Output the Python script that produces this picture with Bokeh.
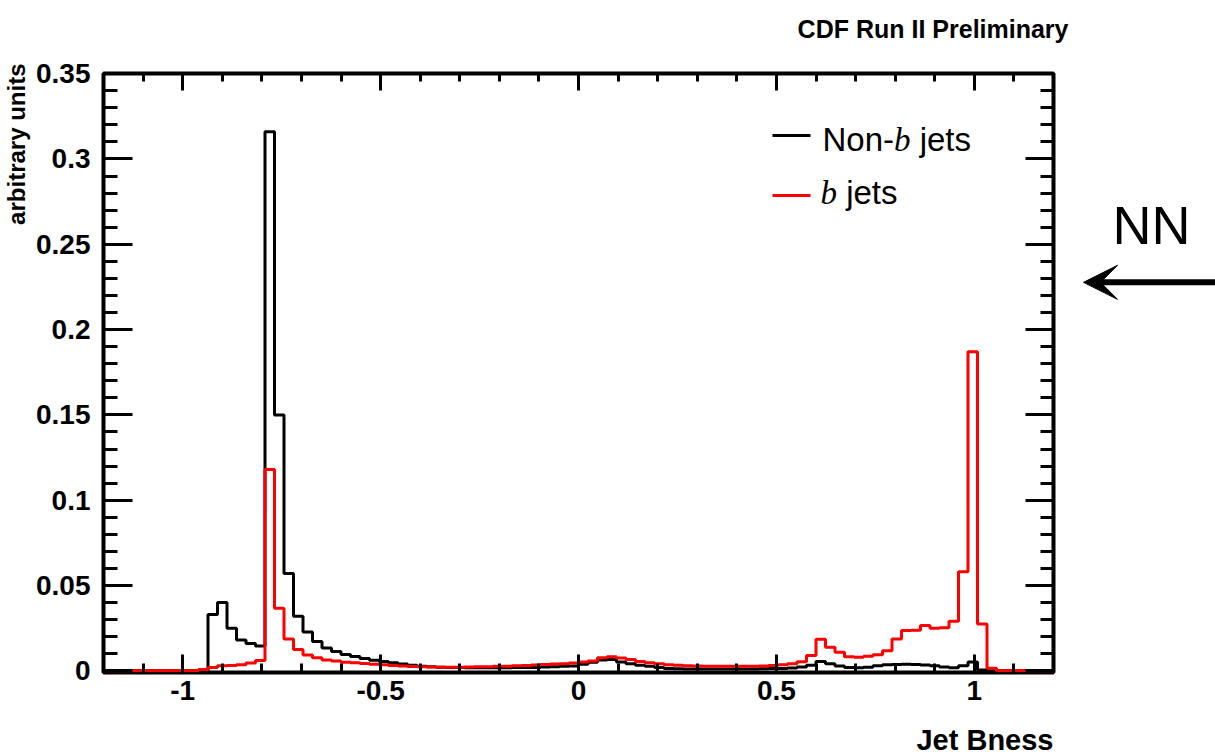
import numpy as np
from bokeh.plotting import figure
from bokeh.layouts import row, column
from bokeh.models import (SingleIntervalTicker, LinearAxis, CustomJSTickFormatter,
                          Label, Arrow, VeeHead, Range1d)
from bokeh.embed import file_html
from bokeh.resources import INLINE

# ---------------- data ----------------
N_BINS = 100
BIN_LO, BIN_HI = -1.2, 1.2

non_b_jets = [
    0, 0, 0, 0, 0, 0, 0, 0, 0, 0, 0,
    0.033, 0.040, 0.025, 0.018, 0.016, 0.0145, 0.316, 0.150, 0.057, 0.032,
    0.0228, 0.0172, 0.0133, 0.0113, 0.0096, 0.0084, 0.0072, 0.0062, 0.0055, 0.0047,
    0.0040, 0.0033, 0.0027, 0.0023, 0.0021, 0.0020, 0.0019, 0.0018, 0.0018, 0.0018,
    0.0018, 0.0018, 0.0019, 0.0019, 0.0020, 0.0022, 0.0024, 0.0026, 0.0028, 0.0038,
    0.0050, 0.0063, 0.0066, 0.0052, 0.0042, 0.0033, 0.0026, 0.0019, 0.0014, 0.0012,
    0.0011, 0.0010, 0.0010, 0.0010, 0.0010, 0.0010, 0.0011, 0.0011, 0.0012, 0.0013, 0.0014,
    0.0016, 0.0022, 0.0032, 0.0055, 0.0042, 0.0028, 0.0020, 0.0018, 0.0021,
    0.0030, 0.0035, 0.0037, 0.0038, 0.0037, 0.0034, 0.0030, 0.0022, 0.0018, 0.0030,
    0.0052, 0.0005,
    0, 0, 0, 0, 0, 0, 0,
]

b_jets = [
    0, 0, 0, 0, 0, 0, 0, 0, 0, 0, 0.0008,
    0.0020, 0.0030, 0.0031, 0.0035, 0.0045, 0.0060, 0.118, 0.0366, 0.0187, 0.0125,
    0.0092, 0.0076, 0.0064, 0.0057, 0.0050, 0.0047, 0.0043, 0.0039, 0.0035, 0.0031,
    0.0028, 0.0025, 0.0023, 0.0022, 0.0021, 0.0021, 0.0021, 0.0022, 0.0023, 0.0024,
    0.0026, 0.0027, 0.0029, 0.0031, 0.0034, 0.0037, 0.0040, 0.0042, 0.0045, 0.0052,
    0.0058, 0.0076, 0.0082, 0.0075, 0.0066, 0.0055, 0.0047, 0.0041, 0.0036, 0.0033,
    0.0030, 0.0028, 0.0027, 0.0026, 0.0026, 0.0026, 0.0026, 0.0027, 0.0028, 0.0031,
    0.0035, 0.0041, 0.0053, 0.0090, 0.0185, 0.0138, 0.0108, 0.0083, 0.0080, 0.0085,
    0.0094, 0.0117, 0.0187, 0.0236, 0.0238, 0.0265, 0.0250, 0.0252, 0.0290, 0.0580,
    0.187, 0.0275, 0.0015,
    0, 0, 0, 0, 0, 0,
]

x_label = "Jet Bness"
y_label = "arbitrary units"
title_text = "CDF Run II Preliminary"
legend_labels = ["Non-", "b", "jets"]
side_text = "NN"

# ---------------- page geometry (global pixels) ----------------
W, H = 1215, 754
HEAD, FOOT = 46, 34          # header / footer strips
LSTRIP, SIDE = 32, 140       # left title strip / right NN strip
FR_L, FR_R, FR_T, FR_B = 103, 1053, 73, 672   # plot frame
MID_H = H - HEAD - FOOT
MAIN_W = W - LSTRIP - SIDE
Y0, Y1 = -0.0010, 0.3501
FONT = "Liberation Sans"

def px2x(px):
    return BIN_LO + (px - FR_L) * (BIN_HI - BIN_LO) / (FR_R - FR_L)

def py2y(py):
    return Y0 + (FR_B - py) * (Y1 - Y0) / (FR_B - FR_T)

def strip(x0, x1, y0, y1):
    f = figure(width=x1 - x0, height=y1 - y0, x_range=Range1d(x0, x1), y_range=Range1d(y1, y0),
               output_backend="svg", toolbar_location=None, min_border=0,
               x_axis_type=None, y_axis_type=None)
    f.xgrid.visible = False
    f.ygrid.visible = False
    f.outline_line_color = None
    f.background_fill_color = "white"
    f.border_fill_color = "white"
    return f

def label(fig, x, y, text, font=FONT, style_="normal", size=33, align="left",
          baseline="middle", angle=0.0):
    fig.add_layout(Label(x=x, y=y, text=text, text_font=font, text_font_style=style_,
                         text_font_size=f"{size}px", text_align=align,
                         text_baseline=baseline, angle=angle, text_color="black"))

# ---------------- main plot ----------------
p = figure(width=MAIN_W, height=MID_H, x_range=Range1d(BIN_LO, BIN_HI), y_range=Range1d(Y0, Y1),
           output_backend="svg", toolbar_location=None,
           min_border_left=FR_L - LSTRIP, min_border_right=W - SIDE - FR_R,
           min_border_top=FR_T - HEAD, min_border_bottom=(H - FOOT) - FR_B,
           x_axis_type=None, y_axis_type=None)
p.xgrid.visible = False
p.ygrid.visible = False
p.outline_line_color = "black"
p.outline_line_width = 4
p.background_fill_color = "white"
p.border_fill_color = "white"

fmt = CustomJSTickFormatter(code="return Number(tick.toFixed(3)).toString();")
empty = CustomJSTickFormatter(code="return '';")

def style(ax, maj, mnr, labels=True):
    ax.axis_line_color = None
    ax.major_tick_in = maj
    ax.major_tick_out = 0
    ax.minor_tick_in = mnr
    ax.minor_tick_out = 0
    ax.major_tick_line_width = 3
    ax.minor_tick_line_width = 3
    ax.major_tick_line_color = "black"
    ax.minor_tick_line_color = "black"
    if labels:
        ax.major_label_text_font = FONT
        ax.major_label_text_font_style = "bold"
        ax.major_label_text_font_size = "28px"
        ax.major_label_text_color = "black"
    else:
        ax.major_label_text_font_size = "0px"
        ax.major_label_standoff = 0

xb = LinearAxis(ticker=SingleIntervalTicker(interval=0.5, num_minor_ticks=5), formatter=fmt)
style(xb, 18, 9)
xb.major_label_standoff = 8
p.add_layout(xb, "below")

xt = LinearAxis(ticker=SingleIntervalTicker(interval=0.5, num_minor_ticks=5), formatter=empty)
style(xt, 17, 8, labels=False)
p.add_layout(xt, "above")

yl = LinearAxis(ticker=SingleIntervalTicker(interval=0.05, num_minor_ticks=5), formatter=fmt)
style(yl, 29, 14)
yl.major_label_standoff = 13
p.add_layout(yl, "left")

yr = LinearAxis(ticker=SingleIntervalTicker(interval=0.05, num_minor_ticks=5), formatter=empty)
style(yr, 28, 13, labels=False)
p.add_layout(yr, "right")

# histograms
edges = np.linspace(BIN_LO, BIN_HI, N_BINS + 1)
nb = list(non_b_jets) + [non_b_jets[-1]]
bb = list(b_jets) + [b_jets[-1]]
p.step(x=edges, y=nb, mode="after", line_color="black", line_width=3)
p.step(x=edges, y=bb, mode="after", line_color="#ff0000", line_width=3)

# legend (manual, mixed fonts)
p.segment(x0=[px2x(772)], x1=[px2x(810)], y0=[py2y(135)], y1=[py2y(135)],
          line_color="black", line_width=3)
p.segment(x0=[px2x(772)], x1=[px2x(810)], y0=[py2y(195)], y1=[py2y(195)],
          line_color="#ff0000", line_width=3)

LS = 33
w_non = (0.722 + 0.556 + 0.556 + 0.333) * LS
w_b = 0.5 * LS
w_sp = 0.278 * LS
r1, r2 = 139, 192
label(p, px2x(822), py2y(r1), legend_labels[0], size=LS)
label(p, px2x(822 + w_non), py2y(r1), legend_labels[1], font="Liberation Serif", style_="italic", size=LS)
label(p, px2x(822 + w_non + w_b + w_sp), py2y(r1), legend_labels[2], size=LS)
label(p, px2x(820), py2y(r2), legend_labels[1], font="Liberation Serif", style_="italic", size=LS)
label(p, px2x(820 + w_b + w_sp), py2y(r2), legend_labels[2], size=LS)

# ---------------- strips around the plot ----------------
header = strip(LSTRIP, W, 0, HEAD)
label(header, 1068, 28, title_text, style_="bold", size=25, align="right")

footer = strip(LSTRIP, W, H - FOOT, H)
label(footer, 1053, 739, x_label, style_="bold", size=29, align="right")

left = strip(0, LSTRIP, 0, H)
label(left, 16, 63, y_label, style_="bold", size=24, align="right", angle=np.pi / 2)

side = strip(W - SIDE, W, HEAD, H - FOOT)
label(side, 1112, 216, side_text, size=54)
side.add_layout(Arrow(end=VeeHead(size=34, fill_color="black", line_color="black"),
                      x_start=1215, y_start=281, x_end=1083, y_end=281,
                      line_color="black", line_width=6))

layout = row(left, column(header, row(p, side, spacing=0), footer, spacing=0), spacing=0)
open("out.html", "w").write(file_html(layout, INLINE))
